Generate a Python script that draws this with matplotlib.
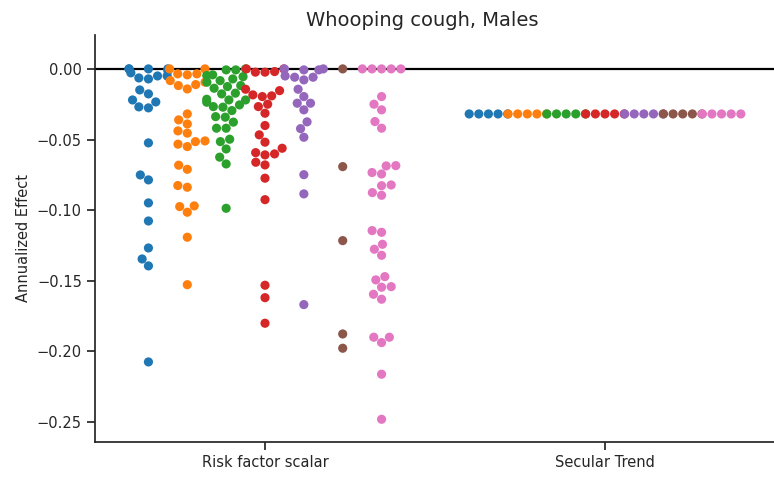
import matplotlib
matplotlib.use("Agg")
import matplotlib.pyplot as plt
import numpy as np
import pandas as pd
import seaborn as sns
from seaborn import categorical as sns_cat

categories = ["Risk factor scalar", "Secular Trend"]
factors = ["Group A", "Group B", "Group C", "Group D", "Group E", "Group F", "Group G"]

blue_rf = [0, 0, 0, 0, -0.0014, -0.0028, -0.005, -0.005, -0.0064, -0.0071, -0.0149, -0.0177,
           -0.022, -0.0234, -0.0269, -0.0276, -0.0524, -0.0751, -0.0786, -0.0949, -0.1077,
           -0.1268, -0.1346, -0.1395, -0.2075]
orange_rf = [0, 0, -0.0035, -0.0035, -0.0042, -0.0083, -0.0094, -0.0111, -0.0118, -0.0142,
             -0.0319, -0.0361, -0.039, -0.0439, -0.0455, -0.051, -0.0515, -0.0533, -0.055,
             -0.0682, -0.0711, -0.0826, -0.0838, -0.097, -0.0975, -0.1015, -0.1192, -0.1528]
green_rf = [0, -0.0007, -0.0007, -0.0042, -0.0047, -0.0055, -0.0071, -0.0083, -0.0094, -0.0118,
            -0.0125, -0.0137, -0.0172, -0.0177, -0.0215, -0.022, -0.022, -0.0236, -0.0255,
            -0.0267, -0.0271, -0.0295, -0.0338, -0.0342, -0.0377, -0.042, -0.042, -0.0498,
            -0.0515, -0.0567, -0.0625, -0.0673, -0.0987]
red_rf = [0, 0, -0.0019, -0.0023, -0.0023, -0.0144, -0.0154, -0.0184, -0.0191, -0.0196, -0.025,
          -0.0267, -0.0314, -0.0401, -0.0467, -0.0519, -0.0562, -0.0593, -0.0602, -0.0609,
          -0.0661, -0.068, -0.0774, -0.0926, -0.1532, -0.162, -0.1801]
purple_rf = [0, 0, -0.0007, -0.0007, -0.005, -0.0059, -0.0059, -0.0078, -0.0144, -0.0196,
             -0.0243, -0.0243, -0.029, -0.0375, -0.0423, -0.0484, -0.0749, -0.0885, -0.1669]
brown_rf = [0, -0.0692, -0.1216, -0.1877, -0.1978]
pink_rf = [0, 0, 0, 0, 0, -0.0196, -0.025, -0.029, -0.0373, -0.042, -0.0685, -0.0687, -0.0734,
           -0.0744, -0.0822, -0.0827, -0.0876, -0.0895, -0.1145, -0.1157, -0.1242, -0.1277,
           -0.132, -0.1471, -0.1494, -0.1542, -0.1546, -0.1596, -0.1631, -0.19, -0.19, -0.1938,
           -0.2162, -0.2481]
secular_value = -0.0319
secular_count = 5

risk_series = [blue_rf, orange_rf, green_rf, red_rf, purple_rf, brown_rf, pink_rf]

rows = []
for f, vals in zip(factors, risk_series):
    for v in vals:
        rows.append((categories[0], f, v))
for f in factors:
    for _ in range(secular_count):
        rows.append((categories[1], f, secular_value))
df = pd.DataFrame(rows, columns=["kind", "factor", "effect"])

# Keep each dodged swarm inside its own hue slot (older seaborn behaviour)
_orig_bee_init = sns_cat.Beeswarm.__init__
def _bee_init(self, orient="x", width=0.8, warn_thresh=.05):
    _orig_bee_init(self, orient=orient, width=width / len(factors), warn_thresh=warn_thresh)
sns_cat.Beeswarm.__init__ = _bee_init

sns.set_style("ticks")
plt.rcParams["font.family"] = ["DejaVu Sans"]

W, H = 774, 479
fig = plt.figure(figsize=(W / 100, H / 100), dpi=100)
ax = fig.add_axes([95 / W, 1 - 442 / H, 680 / W, (442 - 35) / H])
ax.set_xlim(-0.5, 1.5)
ax.set_ylim(-0.2642, 0.024)
ax.axhline(0, color="black", lw=1.6, zorder=1)
sns.swarmplot(data=df, x="kind", y="effect", hue="factor", dodge=True,
              order=categories, hue_order=factors, palette="tab10",
              size=6.6, ax=ax, legend=False, zorder=2, warn_thresh=1.0)
ax.set_xlim(-0.5, 1.5)
ax.set_ylim(-0.2642, 0.024)
ax.set_xlabel("")
ax.set_ylabel("Annualized Effect", fontsize=10.5)
fig.text(422 / W, 1 - 20 / H, "Whooping cough, Males", fontsize=14, ha="center", va="center")
ax.tick_params(labelsize=10.5, length=6, width=1.25)
for s in ["left", "bottom"]:
    ax.spines[s].set_linewidth(1.25)
sns.despine(ax=ax)
fig.savefig("out.png", dpi=100)
